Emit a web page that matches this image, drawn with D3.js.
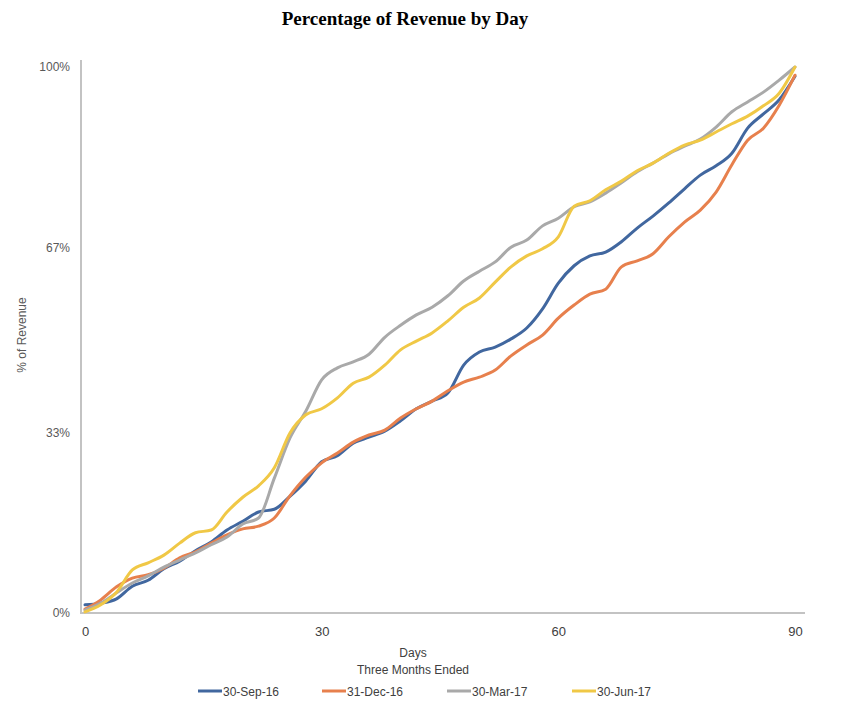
<!DOCTYPE html>
<html>
<head>
<meta charset="utf-8">
<script src="https://cdn.jsdelivr.net/npm/d3@7"></script>
<style>
  html, body { margin: 0; padding: 0; background: #ffffff; }
  svg { display: block; }
</style>
</head>
<body>
<svg id="chart" width="852" height="708"></svg>
<script>
// ---- Data ----
const days = [0,2,4,6,8,10,12,14,16,18,20,22,24,26,28,30,32,34,36,38,40,42,44,46,48,50,52,54,56,58,60,62,64,66,68,70,72,74,76,78,80,82,84,86,88,90];

const sep16 = [1.5,1.8,2.6,4.9,6.0,8.1,9.5,11.4,13.0,15.2,16.8,18.5,19.0,21.4,24.2,27.7,28.8,31.1,32.2,33.3,35.2,37.4,38.8,40.3,45.4,47.8,48.7,50.2,52.2,55.7,60.4,63.6,65.4,66.1,68.0,70.5,72.7,75.1,77.7,80.2,81.9,84.2,88.8,91.4,94.0,98.3];
const dec16 = [0.7,2.4,4.8,6.4,7.0,8.2,10.1,11.2,12.8,14.3,15.4,15.9,17.4,21.5,24.9,27.5,29.3,31.3,32.6,33.5,35.7,37.4,38.8,40.7,42.3,43.2,44.5,47.1,49.1,50.9,54.0,56.4,58.4,59.3,63.4,64.5,65.8,68.9,71.6,73.8,77.1,82.1,86.6,88.8,93.0,98.5];
const mar17 = [0.5,1.8,3.7,5.5,6.8,8.4,9.7,11.0,12.5,13.9,16.3,17.4,24.7,32.1,37.0,42.7,44.9,46.0,47.4,50.5,52.7,54.6,56.0,58.1,60.8,62.6,64.3,67.0,68.3,70.9,72.3,74.4,75.3,76.9,78.8,80.8,82.4,84.1,85.5,86.8,89.0,91.8,93.6,95.4,97.6,100];
const jun17 = [0.2,1.5,3.8,7.9,9.2,10.6,12.8,14.7,15.2,18.5,21.2,23.3,26.6,33.0,36.3,37.4,39.4,42.1,43.2,45.4,48.2,49.8,51.3,53.5,56.0,57.7,60.6,63.4,65.4,66.7,68.9,74.5,75.5,77.5,79.1,81.0,82.4,84.2,85.7,86.6,88.1,89.6,91.0,92.9,95.2,100];

const seriesNames = ["30-Sep-16", "31-Dec-16", "30-Mar-17", "30-Jun-17"];
const seriesValues = [sep16, dec16, mar17, jun17];
const seriesColors = ["#41679f", "#e7804d", "#a9a9a9", "#f0c846"];

const xTicks = [0, 30, 60, 90];
const yTicks = [0, 33, 67, 100];
const yTickLabels = ["0%", "33%", "67%", "100%"];

const titleText = "Percentage of Revenue by Day";
const yTitle = "% of Revenue";
const xTitle1 = "Days";
const xTitle2 = "Three Months Ended";

// ---- Layout ----
const svg = d3.select("#chart");
const x = d3.scaleLinear().domain([0, 90]).range([85, 795]);
const y = d3.scaleLinear().domain([0, 100]).range([613, 67]);
const axisColor = "#c3c3c3";
const textColor = "#595959";
const sans = "'Liberation Sans', Arial, Helvetica, sans-serif";

// Title
svg.append("text")
  .attr("x", 405).attr("y", 25)
  .attr("text-anchor", "middle")
  .style("font-family", "'Liberation Serif', 'Times New Roman', serif")
  .style("font-weight", "bold")
  .style("font-size", "19px")
  .attr("fill", "#000")
  .text(titleText);

// Y axis (labels only + line)
const yAxis = d3.axisLeft(y)
  .tickValues(yTicks)
  .tickFormat((d, i) => yTickLabels[i])
  .tickSize(0)
  .tickPadding(11);
const gy = svg.append("g").attr("transform", "translate(81,0)").call(yAxis);
gy.select(".domain").remove();
gy.selectAll("text")
  .style("font-family", sans).style("font-size", "12px").attr("fill", textColor);
svg.append("line")
  .attr("x1", 81).attr("x2", 81).attr("y1", 60).attr("y2", 614)
  .attr("stroke", axisColor).attr("stroke-width", 2);

// X axis
const xAxis = d3.axisBottom(x)
  .tickValues(xTicks)
  .tickFormat(d3.format("d"))
  .tickSize(0)
  .tickPadding(14);
const gx = svg.append("g").attr("transform", "translate(0,613)").call(xAxis);
gx.select(".domain").remove();
gx.selectAll("text")
  .style("font-family", sans).style("font-size", "13px").attr("fill", "#404040");
svg.append("line")
  .attr("x1", 80).attr("x2", 805).attr("y1", 613).attr("y2", 613)
  .attr("stroke", axisColor).attr("stroke-width", 2);

// Axis titles
svg.append("text")
  .attr("transform", "translate(26,335) rotate(-90)")
  .attr("text-anchor", "middle")
  .style("font-family", sans).style("font-size", "12px")
  .attr("fill", textColor)
  .text(yTitle);
svg.append("text")
  .attr("x", 413).attr("y", 657)
  .attr("text-anchor", "middle")
  .style("font-family", sans).style("font-size", "12px")
  .attr("fill", "#404040")
  .text(xTitle1);
svg.append("text")
  .attr("x", 413).attr("y", 674)
  .attr("text-anchor", "middle")
  .style("font-family", sans).style("font-size", "12px")
  .attr("fill", "#404040")
  .text(xTitle2);

// Lines
const line = d3.line()
  .x((d, i) => x(days[i]))
  .y(d => y(d))
  .curve(d3.curveMonotoneX);

seriesValues.forEach((vals, k) => {
  svg.append("path")
    .datum(vals)
    .attr("fill", "none")
    .attr("stroke", seriesColors[k])
    .attr("stroke-width", 3)
    .attr("stroke-linejoin", "round")
    .attr("stroke-linecap", "round")
    .attr("d", line);
});

// Legend
const legendX = [198, 322, 447, 572];
const legend = svg.append("g");
seriesNames.forEach((name, k) => {
  const g = legend.append("g").attr("transform", `translate(${legendX[k]},691)`);
  g.append("line")
    .attr("x1", 0).attr("x2", 24).attr("y1", 0).attr("y2", 0)
    .attr("stroke", seriesColors[k]).attr("stroke-width", 3);
  g.append("text")
    .attr("x", 25).attr("y", 4.5)
    .style("font-family", sans).style("font-size", "12px")
    .attr("fill", "#404040")
    .text(name);
});
</script>
</body>
</html>
